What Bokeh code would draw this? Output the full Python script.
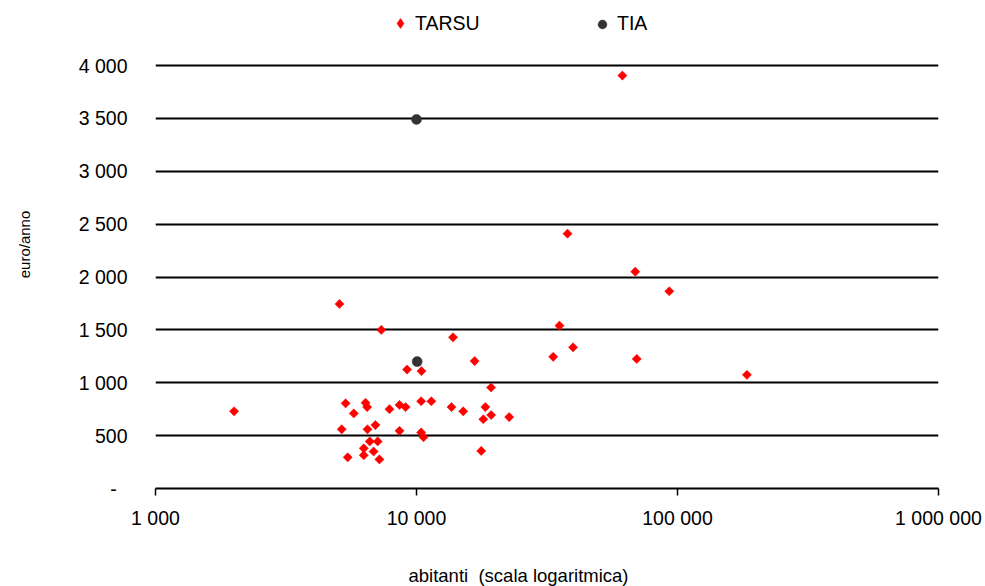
import math

from bokeh.embed import file_html
from bokeh.models import (ColumnDataSource, CustomJSTickFormatter, FixedTicker,
                          Legend, LegendItem, LogAxis, Range1d, Title)
from bokeh.plotting import figure
from bokeh.resources import INLINE

# Comuni: popolazione (abitanti) e importo annuo (euro/anno)
tarsu_abitanti = [61500, 37900, 68900, 93000, 35300, 39800, 33400, 69800, 184500,
                  5070, 7330, 13800, 16700, 9200, 10450, 19300,
                  2000,
                  5350, 5750, 6380, 6470, 7880, 8610, 9080, 10420, 11400,
                  5170, 6490, 6960, 8610, 10420, 10640,
                  6620, 7100, 6280, 6850, 6280, 5450, 7210,
                  13620, 15100, 18360, 18030, 19320, 22650, 17700]
tarsu_euro = [3905, 2410, 2050, 1865, 1540, 1335, 1245, 1225, 1075,
              1745, 1500, 1430, 1205, 1125, 1110, 955,
              730,
              805, 710, 810, 770, 750, 790, 770, 825, 825,
              560, 560, 600, 545, 530, 485,
              445, 445, 380, 350, 315, 295, 275,
              770, 730, 770, 655, 695, 675, 355]

tia_abitanti = [10000, 10060]
tia_euro = [3490, 1200]

x_ticks = [1000, 10000, 100000, 1000000]
y_ticks = [0, 500, 1000, 1500, 2000, 2500, 3000, 3500, 4000]

FONT = "'Liberation Sans', Arial, sans-serif"
TXT = "#000000"
FS = "19.5px"

# the frame reaches the top of the canvas so the legend can sit above the
# 4 000 line; only the fixed ticks get grid lines
p = figure(width=985, height=586, x_axis_type="log",
           x_range=Range1d(1000, 1000000), y_range=Range1d(0, 4614.7),
           output_backend="svg", toolbar_location=None,
           min_border_left=155, min_border_right=47,
           min_border_top=0, min_border_bottom=98)
p.outline_line_color = None
p.background_fill_color = "white"
p.border_fill_color = "white"

# asse x
p.xaxis.ticker = FixedTicker(ticks=x_ticks)
p.xaxis.formatter = CustomJSTickFormatter(code=r"""
return Math.round(tick).toString().replace(/\B(?=(\d{3})+(?!\d))/g, ' ');
""")
p.xaxis.axis_line_color = "black"
p.xaxis.axis_line_width = 1.8
p.xaxis.major_tick_line_color = "black"
p.xaxis.major_tick_line_width = 1.5
p.xaxis.major_tick_out = 7
p.xaxis.major_tick_in = 0
p.xaxis.minor_tick_line_color = None
p.xaxis.major_label_standoff = 11
p.xaxis.major_label_text_font = FONT
p.xaxis.major_label_text_font_size = FS
p.xaxis.major_label_text_color = TXT

# asse y
p.yaxis.ticker = FixedTicker(ticks=y_ticks)
p.yaxis.formatter = CustomJSTickFormatter(code=r"""
if (tick == 0) { return '-\u00a0\u00a0'; }
return Math.round(tick).toString().replace(/\B(?=(\d{3})+(?!\d))/g, ' ');
""")
p.yaxis.axis_line_color = None
p.yaxis.major_tick_line_color = None
p.yaxis.minor_tick_line_color = None
p.yaxis.major_tick_out = 0
p.yaxis.major_tick_in = 0
p.yaxis.major_label_standoff = 28
p.yaxis.major_label_text_font = FONT
p.yaxis.major_label_text_font_size = FS
p.yaxis.major_label_text_color = TXT
p.yaxis.axis_label = "euro/anno"
p.yaxis.axis_label_standoff = 43
p.yaxis.axis_label_text_font = FONT
p.yaxis.axis_label_text_font_size = "15px"
p.yaxis.axis_label_text_font_style = "normal"
p.yaxis.axis_label_text_color = TXT

p.xgrid.grid_line_color = None
p.ygrid.grid_line_color = "black"
p.ygrid.grid_line_width = 1.9

# blank band between the tick labels and the x title (invisible ticks only)
gap = LogAxis(ticker=FixedTicker(ticks=[1000]),
              formatter=CustomJSTickFormatter(code="return '';"),
              axis_line_color=None, major_tick_line_color=None,
              minor_tick_line_color=None, major_tick_out=30, major_tick_in=0,
              major_label_standoff=0)
p.add_layout(gap, "below")

xlab = Title(text="abitanti \u00a0(scala logaritmica)", align="left", offset=253,
             vertical_align="bottom", standoff=2,
             text_font=FONT, text_font_size="18.5px", text_font_style="normal",
             text_color=TXT)
p.add_layout(xlab, "below")

# punti
src_tarsu = ColumnDataSource(dict(x=tarsu_abitanti, y=tarsu_euro))
src_tia = ColumnDataSource(dict(x=tia_abitanti, y=tia_euro))

r_tarsu = p.scatter("x", "y", source=src_tarsu, marker="square", size=6.5,
                    angle=math.pi / 4, fill_color="#ff0000", line_color="#ff0000",
                    line_width=0.5)
r_tia = p.scatter("x", "y", source=src_tia, marker="circle", size=10,
                  fill_color="#333333", line_color="#333333", line_width=0.5)

# legend swatch for TARSU: a diamond with no position in the data
r_tarsu_key = p.scatter(x=[float("nan")], y=[float("nan")], marker="diamond",
                        fill_color="#ff0000", line_color="#ff0000", line_width=1)

# legenda in alto
leg1 = Legend(items=[LegendItem(label="TARSU", renderers=[r_tarsu_key])],
              location=(233, 453), orientation="horizontal",
              glyph_width=24, glyph_height=24, label_standoff=3,
              padding=0, margin=0, border_line_color=None,
              background_fill_alpha=0,
              label_text_font=FONT, label_text_font_size=FS,
              label_text_color=TXT)
leg2 = Legend(items=[LegendItem(label="TIA", renderers=[r_tia])],
              location=(436, 453), orientation="horizontal",
              glyph_width=22, glyph_height=22, label_standoff=4,
              padding=0, margin=0, border_line_color=None,
              background_fill_alpha=0,
              label_text_font=FONT, label_text_font_size=FS,
              label_text_color=TXT)
p.add_layout(leg1, "center")
p.add_layout(leg2, "center")

open("out.html", "w").write(file_html(p, INLINE))
